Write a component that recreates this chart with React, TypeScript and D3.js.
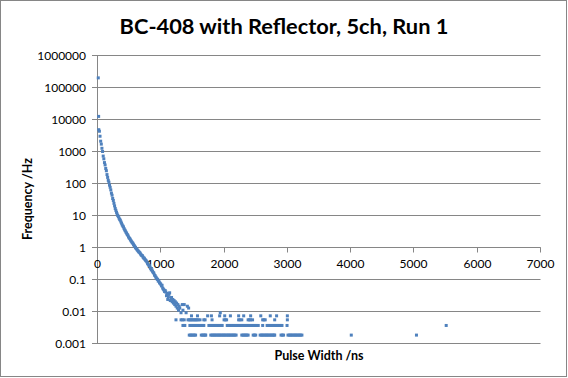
import React from 'react';
import * as d3 from 'd3';

const W = 568;
const H = 378;
const TITLE = 'BC-408 with Reflector, 5ch, Run 1';
const X_TITLE = 'Pulse Width /ns';
const Y_TITLE = 'Frequency /Hz';

const xTicks = [0, 1000, 2000, 3000, 4000, 5000, 6000, 7000];
const yTicks = [0.001, 0.01, 0.1, 1, 10, 100, 1000, 10000, 100000, 1000000];
const yTickLabels = ['0.001', '0.01', '0.1', '1', '10', '100', '1000', '10000', '100000', '1000000'];

// main decay curve (ns, Hz)
const curveNs = [
  12, 18, 20, 30, 40, 50, 60, 70, 80, 90,
  100, 110, 120, 130, 140, 150, 160, 170, 180, 190,
  200, 210, 220, 230, 240, 250, 260, 270, 280, 290,
  300, 310, 320, 330, 340, 350, 360, 370, 380, 390,
  400, 410, 420, 430, 440, 450, 460, 470, 480, 490,
  500, 510, 520, 530, 540, 550, 560, 570, 580, 590,
  600, 610, 620, 630, 640, 650, 660, 670, 680, 690,
  700, 710, 720, 730, 740, 750, 760, 770, 780, 790,
  800, 810, 820, 830, 840, 850, 860, 870, 880, 890,
  900, 910, 920, 930, 940, 950, 960, 970, 980, 990,
  1000, 1010, 1020, 1030, 1040, 1050, 1060, 1070,
];
const curveHz = [
  200000, 12500, 4800, 4300, 3000, 2100, 1700, 1260, 1000, 720,
  590, 450, 380, 295, 250, 190, 155, 126, 110, 89,
  76, 63, 50, 43, 34, 29.5, 24, 20, 16.6, 14.5,
  12.6, 11.2, 10, 9.3, 8.3, 7.6, 7.1, 6.3, 5.75, 5.1,
  4.7, 4.4, 3.9, 3.55, 3.3, 3.0, 2.8, 2.55, 2.4, 2.15,
  2.0, 1.9, 1.74, 1.62, 1.51, 1.41, 1.35, 1.23, 1.15, 1.07,
  1.0, 0.93, 0.89, 0.83, 0.79, 0.74, 0.71, 0.68, 0.63, 0.59,
  0.56, 0.55, 0.5, 0.47, 0.46, 0.42, 0.4, 0.38, 0.355, 0.32,
  0.3, 0.28, 0.27, 0.24, 0.22, 0.2, 0.2, 0.18, 0.166, 0.158,
  0.138, 0.132, 0.12, 0.112, 0.105, 0.1, 0.089, 0.091, 0.079, 0.076,
  0.071, 0.063, 0.066, 0.054, 0.05, 0.047, 0.042, 0.045,
];

// frequency of a single count
const UNIT_HZ = 0.00183;

// scattered tail cluster (ns, counts)
const clusterNs = [
  1080, 1090, 1100, 1110, 1120, 1130, 1140, 1150, 1160, 1170,
  1180, 1190, 1200, 1210, 1220, 1230, 1240, 1250, 1260, 1270,
  1280, 1290, 1300, 1320, 1340, 1350, 1370, 1400, 1420, 1440, 1940,
];
const clusterCounts = [
  22, 17, 20, 13, 16, 19, 21, 12, 14, 15,
  11, 13, 10, 12, 9, 11, 8, 10, 7, 9,
  6, 8, 7, 5, 9, 6, 9, 5, 8, 7, 5,
];

// bins holding exactly 1, 2, 3, 4 counts
const count1Ns = [
  1450, 1470, 1490, 1510, 1530, 1550,
  1640, 1660, 1680, 1700, 1710,
  1790, 1810, 1830, 1850, 1870, 1890, 1910, 1930, 1950, 1970, 1990,
  2010, 2030, 2050, 2070, 2090, 2110, 2130, 2150, 2170, 2190,
  2280, 2300, 2320, 2340, 2360, 2380,
  2460, 2480, 2500,
  2570, 2590, 2610, 2630, 2650, 2670, 2690, 2710, 2730, 2750, 2770, 2790, 2800,
  2900, 2920, 2940,
  3010, 3030, 3050, 3070, 3090, 3110, 3130, 3150, 3170, 3190, 3210, 3230,
  4010, 5040,
];
const count2Ns = [
  1350, 1370, 1380,
  1460, 1480, 1500, 1520, 1540, 1560, 1580, 1600, 1620, 1640, 1660, 1680,
  1760, 1780, 1800, 1820, 1840, 1860, 1880, 1900, 1920, 1940, 1960, 1970,
  2050, 2070, 2090, 2110, 2130, 2150, 2170, 2190, 2210, 2230, 2250, 2270, 2290,
  2310, 2330, 2350, 2370, 2390, 2410, 2430, 2450, 2470, 2490, 2510, 2540,
  2610,
  2680, 2700, 2720, 2740, 2760, 2780, 2800, 2820, 2840, 2860, 2880, 2900, 2915,
  2995,
  5510,
];
const count3Ns = [
  1240, 1320, 1340, 1370, 1430, 1450, 1470, 1490, 1510, 1530, 1550, 1570, 1590, 1620,
  1680, 1700, 1810, 2000, 2020, 2040, 2230, 2250, 2280, 2380, 2400, 2420, 2450,
  2610, 2630, 2650, 2800, 3000,
];
const count4Ns = [
  1485, 1580, 1740, 1800, 1930, 2010, 2100, 2230, 2310, 2420, 2580, 2730, 2830, 3000,
];

const MARKER = '#4F81BD';
const GRID = '#868686';
const FONT = 'Lato, "Open Sans", sans-serif';

export default function App() {
  const x = d3.scaleLinear().domain([0, 7000]).range([97.5, 540.5]);
  const y = d3.scaleLog().domain([0.001, 1000000]).range([343.5, 55.5]);

  const pts: { ns: number; hz: number }[] = [];
  curveNs.forEach((n, i) => pts.push({ ns: n, hz: curveHz[i] }));
  clusterNs.forEach((n, i) => pts.push({ ns: n, hz: clusterCounts[i] * UNIT_HZ }));
  count1Ns.forEach((n) => pts.push({ ns: n, hz: 1 * UNIT_HZ }));
  count2Ns.forEach((n) => pts.push({ ns: n, hz: 2 * UNIT_HZ }));
  count3Ns.forEach((n) => pts.push({ ns: n, hz: 3 * UNIT_HZ }));
  count4Ns.forEach((n) => pts.push({ ns: n, hz: 4 * UNIT_HZ }));

  const x0 = x(0);
  const x1 = x(7000);
  const axisY = Math.round(y(1) - 0.5) + 0.5;

  return (
    <svg
      width={W}
      height={H}
      style={{ position: 'absolute', left: 0, top: 0, background: '#fff' }}
      fontFamily={FONT}
    >
      <rect x={0.5} y={0.5} width={566} height={376} fill="#fff" stroke={GRID} strokeWidth={1} />
      <text x={284} y={34} textAnchor="middle" fontSize={21.8} fontWeight="bold" fill="#000">
        {TITLE}
      </text>
      {/* gridlines + y ticks */}
      {yTicks.map((t, i) => {
        const yy = Math.round(y(t) - 0.5) + 0.5;
        return (
          <g key={i}>
            <line x1={92} x2={x1} y1={yy} y2={yy} stroke={GRID} strokeWidth={1} />
            <text x={86} y={yy} dy="0.35em" textAnchor="end" fontSize={12} fill="#000">
              {yTickLabels[i]}
            </text>
          </g>
        );
      })}
      {/* y axis */}
      <line x1={x0} x2={x0} y1={y(1000000)} y2={y(0.001)} stroke={GRID} strokeWidth={1} />
      {/* x axis at 1 */}
      <line x1={x0} x2={x1} y1={axisY} y2={axisY} stroke={GRID} strokeWidth={1} />
      {xTicks.map((t) => {
        const xx = Math.round(x(t) - 0.5) + 0.5;
        return (
          <g key={t}>
            <line x1={xx} x2={xx} y1={axisY} y2={axisY + 5} stroke={GRID} strokeWidth={1} />
            <text x={xx} y={axisY + 16} dy="0.35em" textAnchor="middle" fontSize={12} fill="#000">
              {t}
            </text>
          </g>
        );
      })}
      {/* points */}
      {pts.map((p, i) => (
        <rect
          key={i}
          x={x(p.ns) - 1.5}
          y={y(p.hz) - 1.5}
          width={3}
          height={3}
          fill={MARKER}
        />
      ))}
      <text x={(x0 + x1) / 2} y={356} dy="0.35em" textAnchor="middle" fontSize={12.5} fontWeight="bold" fill="#000">
        {X_TITLE}
      </text>
      <text
        transform={`translate(28,199) rotate(-90)`}
        dy="0.35em"
        textAnchor="middle"
        fontSize={12.5}
        fontWeight="bold"
        fill="#000"
      >
        {Y_TITLE}
      </text>
    </svg>
  );
}
